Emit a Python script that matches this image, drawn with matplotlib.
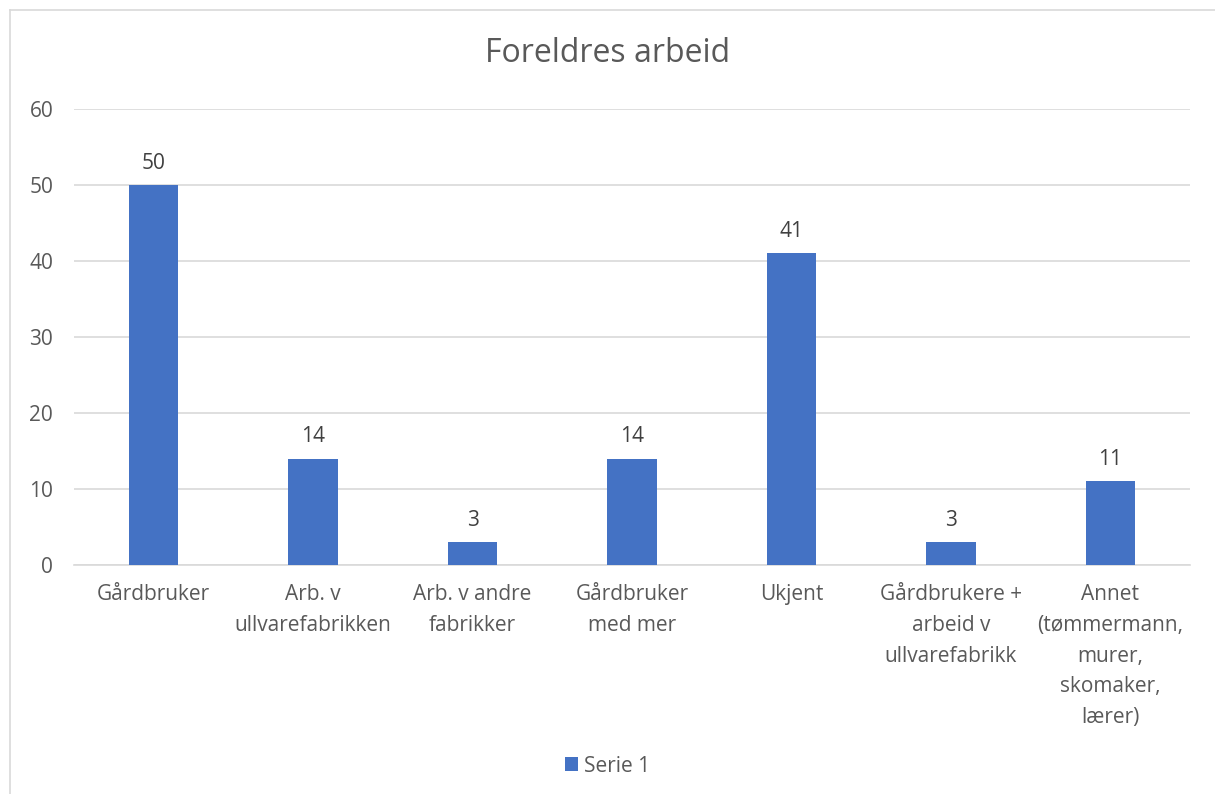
import matplotlib.pyplot as plt
from matplotlib.lines import Line2D

# Chart data
categories = [
    "Gårdbruker",
    "Arb. v\nullvarefabrikken",
    "Arb. v andre\nfabrikker",
    "Gårdbruker\nmed mer",
    "Ukjent",
    "Gårdbrukere +\narbeid v\nullvarefabrikk",
    "Annet\n(tømmermann,\nmurer,\nskomaker,\nlærer)",
]
values = [50, 14, 3, 14, 41, 3, 11]
series_name = "Serie 1"
title = "Foreldres arbeid"

text_color = "#595959"
bar_color = "#4472C4"
grid_color = "#D9D9D9"

plt.rcParams["font.family"] = ["Open Sans", "DejaVu Sans"]

fig = plt.figure(figsize=(12.15, 7.94), dpi=100)
ax = fig.add_axes([74 / 1215, 1 - 565 / 794, (1190 - 74) / 1215, (565 - 109) / 794])

x = list(range(len(categories)))
bars = ax.bar(x, values, width=0.31, color=bar_color, label=series_name, zorder=3)

for xi, v in zip(x, values):
    ax.annotate(str(v), (xi, v), xytext=(0, 8), textcoords="offset points",
                ha="center", va="bottom", fontsize=15, color="#404040")

ax.set_xlim(-0.5, len(categories) - 0.5)
ax.set_ylim(0, 60)
ax.set_yticks(range(0, 61, 10))
ax.set_xticks(x)
ax.set_xticklabels(categories, fontsize=15, color=text_color, linespacing=1.6)
ax.tick_params(axis="y", labelsize=15, labelcolor=text_color, length=0, pad=15)
ax.tick_params(axis="x", length=0, pad=14)

ax.grid(axis="y", color=grid_color, linewidth=1.2, zorder=0)
for s in ["top", "right", "left"]:
    ax.spines[s].set_visible(False)
ax.spines["bottom"].set_color(grid_color)
ax.spines["bottom"].set_linewidth(1.2)

fig.text(0.5, 1 - 53 / 794, title, ha="center", va="center", fontsize=23, color=text_color)

fig.legend(handles=[bars], labels=[series_name], loc="center",
           bbox_to_anchor=(0.5, 1 - 766 / 794), frameon=False, fontsize=15,
           labelcolor=text_color, handlelength=0.65, handleheight=0.65, handletextpad=0.3)

# Chart border (left and top edges visible)
fig.add_artist(Line2D([10 / 1215, 10 / 1215], [0, 1 - 10 / 794], color="#D9D9D9", linewidth=1.2))
fig.add_artist(Line2D([10 / 1215, 1], [1 - 10 / 794, 1 - 10 / 794], color="#D9D9D9", linewidth=1.2))

fig.savefig("out.png", dpi=100)
